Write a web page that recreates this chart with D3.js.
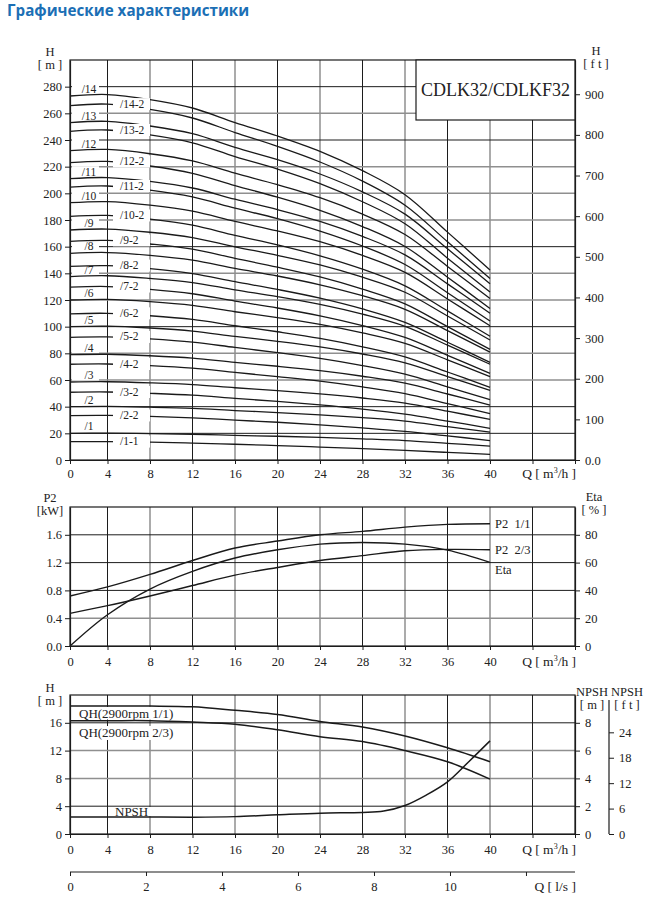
<!DOCTYPE html>
<html><head><meta charset="utf-8">
<script src="https://cdn.jsdelivr.net/npm/d3@7/dist/d3.min.js"></script>
<style>
body{margin:0;background:#fff;}
svg{display:block;}
text{font-family:"Liberation Serif","Times New Roman",serif;fill:#222;}
</style></head><body>
<svg id="c" width="648" height="907"></svg>
<script>
// ---------- DATA ----------
const Q = [0,4,8,12,16,20,24,28,32,36,40];
const qGrid = [4,8,12,16,20,24,28,32,36,40,44];
const qTicks = [0,4,8,12,16,20,24,28,32,36,40,44,48];
const qLabels = [0,4,8,12,16,20,24,28,32,36,40];

const stageFull = ["/1","/2","/3","/4","/5","/6","/7","/8","/9","/10","/11","/12","/13","/14"];
const stageReduced = ["/1-1","/2-2","/3-2","/4-2","/5-2","/6-2","/7-2","/8-2","/9-2","/10-2","/11-2","/12-2","/13-2","/14-2"];

const headFull = [
 [20,20.1,19.8,19.3,18.5,17.8,17.0,15.9,14.6,12.5,10.4],
 [40,40.2,39.6,38.7,37.1,35.6,33.9,31.8,29.2,25.0,20.9],
 [58.5,58.7,57.9,56.6,54.2,52.1,49.6,46.5,42.6,36.6,30.5],
 [79,79.3,78.2,76.4,73.2,70.3,67.0,62.8,57.6,49.5,41.2],
 [100,100.4,99,96.7,92.7,89,84.8,79.5,72.9,62.6,52.2],
 [120,120.5,118.8,116.0,111.2,106.8,101.8,95.4,87.5,75.1,62.6],
 [137.6,138.2,136.2,133.1,127.6,122.5,116.7,109.4,100.3,86.1,71.8],
 [155,155.6,153.5,149.9,143.7,138.0,131.4,123.2,113.0,97.0,80.9],
 [172.5,173.2,170.8,166.8,159.9,153.5,146.3,137.1,125.8,108.0,90.0],
 [193,193.8,191.1,186.6,178.9,171.8,163.7,153.4,140.7,120.8,100.7],
 [211,211.8,208.9,204.0,195.6,187.8,178.9,167.7,153.8,132.1,110.1],
 [232,232.9,229.7,224.3,215.1,206.5,196.7,184.4,169.1,145.2,121.1],
 [253,254.0,250.5,244.7,234.5,225.2,214.5,201.1,184.4,158.4,132.1],
 [273,274.1,270.3,264.0,253.1,243.0,231.5,217.0,199.0,170.9,142.5]
];
const headReduced = [
 [13.8,13.8,13.4,12.7,11.8,10.8,9.7,8.5,7.2,5.7,4.2],
 [33.3,33.4,32.7,31.6,29.9,28.3,26.4,24.1,21.5,18.1,14.6],
 [50.8,51.0,50.0,48.6,46.2,43.9,41.3,38.2,34.4,29.2,23.8],
 [71.8,72.0,70.8,68.9,65.7,62.5,59.1,54.8,49.7,42.3,34.8],
 [92,92.3,90.8,88.4,84.4,80.5,76.2,70.8,64.4,54.9,45.3],
 [109.6,110.0,108.2,105.4,100.7,96.2,91.2,84.9,77.3,66.0,54.5],
 [129.6,130.1,128.0,124.7,119.2,114.0,108.1,100.8,91.9,78.5,64.9],
 [145.2,145.8,143.5,139.8,133.7,127.9,121.4,113.3,103.2,88.3,73.2],
 [164,164.7,162.0,158.1,151.2,144.6,137.3,128.2,117.1,100.0,83.0],
 [182.7,183.4,180.7,176.1,168.4,161.3,153.1,143.1,130.6,111.8,92.8],
 [204.7,205.5,202.4,197.3,188.9,181.0,171.7,160.5,146.6,125.5,104.2],
 [223,223.9,220.5,215.0,205.8,197.1,187.3,175.1,160.1,137.1,113.7],
 [246.5,247.5,243.8,237.9,227.5,218.2,207.3,193.7,177.2,151.4,126.0],
 [265.8,266.9,262.9,256.5,245.6,235.2,223.5,209.2,191.1,163.7,136.1]
];
const hTicksTop = [0,20,40,60,80,100,120,140,160,180,200,220,240,260,280];
const ftTicksTop = [0,100,200,300,400,500,600,700,800,900];

const p2Full = [0.72,0.85,1.03,1.23,1.41,1.51,1.60,1.65,1.71,1.75,1.76];
const p2Reduced = [0.47,0.58,0.72,0.87,1.02,1.13,1.23,1.30,1.37,1.39,1.385];
const etaPct = [0,22.5,41,53.7,63.3,69.2,73.3,74.5,73.3,69,60.2];
const p2Ticks = [0,0.4,0.8,1.2,1.6];
const etaTicks = [0,20,40,60,80];

const qh11 = [18.4,18.4,18.4,18.3,17.8,17.2,16.2,15.4,14.1,12.4,10.4];
const qh23 = [16.3,16.3,16.3,16.1,15.8,15.0,14.0,13.3,12.0,10.4,7.9];
const npshQ = [0,4,8,12,16,20,24,28,30,32,34,36,38,40];
const npshM = [1.22,1.22,1.22,1.21,1.25,1.38,1.5,1.55,1.65,2.05,2.8,3.75,5.2,6.7];
const hTicksBot = [0,4,8,12,16];
const npshMTicks = [0,2,4,6,8];
const npshFtTicks = [0,6,12,18,24];
const lsTicks = [0,2,4,6,8,10,12];
const lsLabels = [0,2,4,6,8,10];

// ---------- SETUP ----------
const svg = d3.select("#c");
const DARK = "#1c1c1c", GRAY = "#8f8f8f";
const L = 70, R = 575;
const x = d3.scaleLinear().domain([0,4,48]).range([70,107.5,575]);
const xls = d3.scaleLinear().domain([0,13.29]).range([70,575]);

svg.append("text").attr("x",7).attr("y",16)
  .style("font-family","'Open Sans','Noto Sans',sans-serif").style("font-weight","700")
  .style("font-size","15.2px").style("fill","#1b6fb5").text("Графические характеристики");

function vgrid(g, y1, y2){
  qGrid.forEach(q=>{
    const dark = (q/4)%2===1;
    g.append("line").attr("x1",x(q)).attr("x2",x(q)).attr("y1",y1).attr("y2",y2)
     .attr("stroke",dark?DARK:GRAY).attr("stroke-width",dark?1:1.5);
  });
}
function hgrid(g, scale, vals, darkVals){
  vals.forEach(v=>{
    const dark = darkVals.includes(v);
    g.append("line").attr("x1",L).attr("x2",R).attr("y1",scale(v)).attr("y2",scale(v))
     .attr("stroke",dark?DARK:GRAY).attr("stroke-width",dark?1:1.5);
  });
}
function styleAxis(g){
  g.selectAll("path.domain").attr("stroke",DARK).attr("stroke-width",1.2);
  g.selectAll(".tick line").attr("stroke",DARK).attr("stroke-width",1);
  g.selectAll("text").style("font-family","'Liberation Serif',serif").style("font-size","12.5px").attr("fill","#222");
}
function frame(g, yTop, yBot){
  g.append("rect").attr("x",L).attr("y",yTop).attr("width",R-L).attr("height",yBot-yTop)
   .attr("fill","none").attr("stroke",DARK).attr("stroke-width",1.2);
}
function xAxis(yBot, pad){
  const g = svg.append("g").attr("transform",`translate(0,${yBot})`)
    .call(d3.axisBottom(x).tickValues(qTicks).tickSize(4).tickSizeOuter(0).tickPadding(pad)
      .tickFormat(d=> qLabels.includes(d)? d : ""));
  styleAxis(g);
  const t = svg.append("text").attr("x",576).attr("y",yBot+pad+12.5).attr("text-anchor","end").style("font-size","13.5px");
  t.append("tspan").text("Q  [ m");
  t.append("tspan").attr("dy",-5).style("font-size","8px").text("3");
  t.append("tspan").attr("dy",5).text("/h ]");
}
function unitLabel(cx, y1, t1, t2){
  svg.append("text").attr("x",cx).attr("y",y1).attr("text-anchor","middle").style("font-size","12.5px").text(t1);
  svg.append("text").attr("x",cx).attr("y",y1+13).attr("text-anchor","middle").style("font-size","12.5px").style("white-space","pre").text(t2);
}
const line = (xs, sx, sy) => d3.line().x((d,i)=>sx(xs[i])).y(d=>sy(d)).curve(d3.curveCatmullRom.alpha(0.5));

// ---------- TOP CHART ----------
const yT = d3.scaleLinear().domain([0,300]).range([460,60]);
const yTft = d3.scaleLinear().domain([0,300*3.28084]).range([460,60]);
const gT = svg.append("g");
vgrid(gT, 60, 460);
hgrid(gT, yT, hTicksTop.filter(v=>v>0), [20,40,100,160,240,280]);

stageFull.forEach((s,i)=>{
  const yc = yT(headFull[i][0]);
  gT.append("rect").attr("x",72).attr("y",yc-12.5).attr("width",27).attr("height",11).attr("fill","#fff");
});
const topLine = line(Q, x, yT);
headFull.forEach(h=> gT.append("path").attr("d",topLine(h)).attr("fill","none").attr("stroke","#1a1a1a").attr("stroke-width",1.3));
headReduced.forEach(h=> gT.append("path").attr("d",topLine(h)).attr("fill","none").attr("stroke","#1a1a1a").attr("stroke-width",1.3));

stageReduced.forEach((s,i)=>{
  const yc = yT(headReduced[i][1]);
  gT.append("rect").attr("x",113).attr("y",yc-6).attr("width",37).attr("height",12).attr("fill","#fff");
  gT.append("text").attr("x",120).attr("y",yc+3.5).style("font-size","11.5px").text(s);
});
stageFull.forEach((s,i)=>{
  const yc = yT(headFull[i][0]);
  gT.append("text").attr("x",89).attr("y",yc-3).attr("text-anchor","middle").style("font-size","11.5px").text(s);
});
frame(gT, 60, 460);
gT.append("rect").attr("x",416).attr("y",60).attr("width",R-416).attr("height",60)
  .attr("fill","#fff").attr("stroke",DARK).attr("stroke-width",1.2);
gT.append("text").attr("x",495.5).attr("y",96).attr("text-anchor","middle").style("font-size","18px").text("CDLK32/CDLKF32");

styleAxis(svg.append("g").attr("transform",`translate(${L},0)`)
  .call(d3.axisLeft(yT).tickValues(hTicksTop).tickSize(5).tickSizeOuter(0).tickPadding(3)));
styleAxis(svg.append("g").attr("transform",`translate(${R},0)`)
  .call(d3.axisRight(yTft).tickValues(ftTicksTop).tickSize(5).tickSizeOuter(0).tickPadding(5)
    .tickFormat(d=> d===0 ? "0.0" : d)));
xAxis(460, 5.5);
unitLabel(50, 56, "H", "[ m ]");
unitLabel(596, 55, "H", "[ f t ]");

// ---------- MIDDLE CHART ----------
const yM = d3.scaleLinear().domain([0,2]).range([646,507]);
const yE = d3.scaleLinear().domain([0,100]).range([646,507]);
const gM = svg.append("g");
vgrid(gM, 507, 646);
hgrid(gM, yM, [0.4,0.8,1.2,1.6], [0.8,1.2,1.6]);
const midLine = line(Q, x, yM);
const etaLine = line(Q, x, yE);
gM.append("path").attr("d",midLine(p2Full)).attr("fill","none").attr("stroke","#1a1a1a").attr("stroke-width",1.4);
gM.append("path").attr("d",midLine(p2Reduced)).attr("fill","none").attr("stroke","#1a1a1a").attr("stroke-width",1.4);
gM.append("path").attr("d",etaLine(etaPct)).attr("fill","none").attr("stroke","#1a1a1a").attr("stroke-width",1.4);
frame(gM, 507, 646);
gM.append("text").attr("x",495).attr("y",yM(p2Full[10])+4.5).style("font-size","12.5px").style("white-space","pre").text("P2  1/1");
gM.append("text").attr("x",495).attr("y",yM(p2Reduced[10])+4.5).style("font-size","12.5px").style("white-space","pre").text("P2  2/3");
gM.append("text").attr("x",495).attr("y",yE(etaPct[10])+12).style("font-size","12.5px").text("Eta");
styleAxis(svg.append("g").attr("transform",`translate(${L},0)`)
  .call(d3.axisLeft(yM).tickValues(p2Ticks).tickSize(5).tickSizeOuter(0).tickPadding(3).tickFormat(d3.format(".1f"))));
styleAxis(svg.append("g").attr("transform",`translate(${R},0)`)
  .call(d3.axisRight(yE).tickValues(etaTicks).tickSize(5).tickSizeOuter(0).tickPadding(5)));
xAxis(646, 7.5);
unitLabel(50, 502, "P2", "[kW]");
unitLabel(594, 501, "Eta", "[ % ]");

// ---------- BOTTOM CHART ----------
const yB = d3.scaleLinear().domain([0,20]).range([834,695]);
const yN = d3.scaleLinear().domain([0,10]).range([834,695]);
const yNft = d3.scaleLinear().domain([0,10*3.28084]).range([834,695]);
const gB = svg.append("g");
vgrid(gB, 695, 834);
hgrid(gB, yB, [4,8,12,16], [4,16]);
gB.append("rect").attr("x",76).attr("y",707).attr("width",102).attr("height",12.5).attr("fill","#fff");
gB.append("rect").attr("x",76).attr("y",726).attr("width",102).attr("height",14).attr("fill","#fff");
gB.append("rect").attr("x",113).attr("y",807).attr("width",40).attr("height",9).attr("fill","#fff");
const botLine = line(Q, x, yB);
const npshLine = line(npshQ, x, yN);
gB.append("path").attr("d",botLine(qh11)).attr("fill","none").attr("stroke","#1a1a1a").attr("stroke-width",1.5);
gB.append("path").attr("d",botLine(qh23)).attr("fill","none").attr("stroke","#1a1a1a").attr("stroke-width",1.5);
gB.append("path").attr("d",npshLine(npshM)).attr("fill","none").attr("stroke","#1a1a1a").attr("stroke-width",1.5);
frame(gB, 695, 834);
gB.append("text").attr("x",79).attr("y",717.5).style("font-size","13px").text("QH(2900rpm 1/1)");
gB.append("text").attr("x",79).attr("y",737).style("font-size","13px").text("QH(2900rpm 2/3)");
gB.append("text").attr("x",115).attr("y",816).style("font-size","13px").text("NPSH");
styleAxis(svg.append("g").attr("transform",`translate(${L},0)`)
  .call(d3.axisLeft(yB).tickValues(hTicksBot).tickSize(5).tickSizeOuter(0).tickPadding(3)));
styleAxis(svg.append("g").attr("transform",`translate(${R},0)`)
  .call(d3.axisRight(yN).tickValues(npshMTicks).tickSize(5).tickSizeOuter(0).tickPadding(5)));
const gft = svg.append("g").attr("transform",`translate(609,0)`)
  .call(d3.axisRight(yNft).tickValues(npshFtTicks).tickSize(5).tickSizeOuter(0).tickPadding(5));
gft.select("path.domain").attr("d","M0,700V834");
styleAxis(gft);
xAxis(834, 7.5);
unitLabel(50, 692, "H", "[ m ]");
unitLabel(592, 696, "NPSH", "[ m ]");
unitLabel(627, 696, "NPSH", "[ f t ]");

// ---------- l/s AXIS ----------
const gls = svg.append("g").attr("transform","translate(0,872)")
  .call(d3.axisBottom(xls).tickValues(lsTicks).tickSize(4).tickSizeOuter(0).tickPadding(6.5)
    .tickFormat(d=> lsLabels.includes(d)? d : ""));
gls.select("path.domain").attr("d",`M${L},0H${R}`);
styleAxis(gls);
svg.append("text").attr("x",576).attr("y",891).attr("text-anchor","end").style("font-size","13.5px").text("Q  [ l/s ]");
</script>
</body></html>
